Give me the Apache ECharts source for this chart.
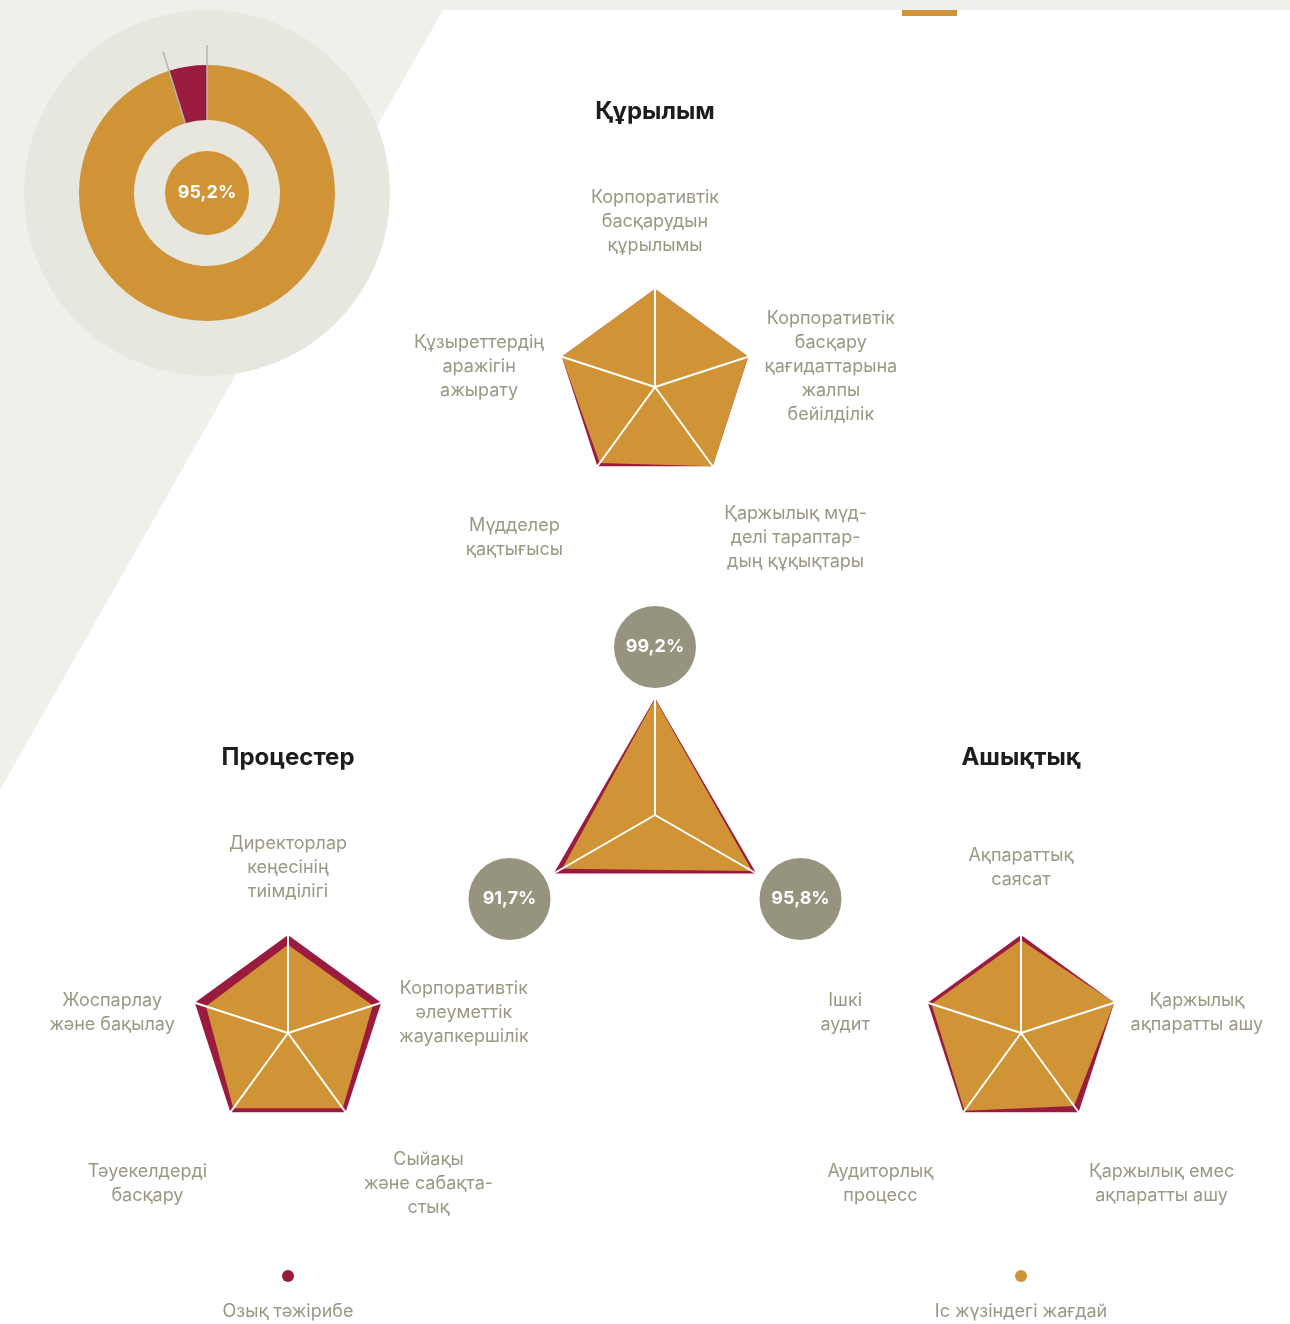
<!DOCTYPE html>
<html>
<head>
<meta charset="utf-8">
<script src="https://cdn.jsdelivr.net/npm/echarts@6/dist/echarts.min.js"></script>
<style>
  html, body { margin: 0; padding: 0; background: #fff; }
  #main { width: 1290px; height: 1324px; }
</style>
</head>
<body>
<div id="main"></div>
<script>
var legendNames = ['Озық тәжірибе', 'Іс жүзіндегі жағдай'];

// donut: actual level vs. gap
var donutValues = [95.2, 4.8];

// triangle: three groups
var groupNames = ['Құрылым', 'Процестер', 'Ашықтық'];
var groupValues = [99.2, 91.7, 95.8];
var groupBest = [100, 100, 100];

// indicators go from the top, counterclockwise
var structureNames = [
    'Корпоративтік\nбасқарудын\nқұрылымы',
    'Құзыреттердің\nаражігін\nажырату',
    'Мүдделер\nқақтығысы',
    'Қаржылық мүд-\nделі тараптар-\nдың құқықтары',
    'Корпоративтік\nбасқару\nқағидаттарына\nжалпы\nбейілділік'
];
var structureValues = [100, 100, 96, 100, 100];

var processNames = [
    'Директорлар\nкеңесінің\nтиімділігі',
    'Жоспарлау\nжәне бақылау',
    'Тәуекелдерді\nбасқару',
    'Сыйақы\nжәне сабақта-\nстық',
    'Корпоративтік\nәлеуметтік\nжауапкершілік'
];
var processValues = [90, 88, 95, 95, 91];

var disclosureNames = [
    'Ақпараттық\nсаясат',
    'Ішкі\nаудит',
    'Аудиторлық\nпроцесс',
    'Қаржылық емес\nақпаратты ашу',
    'Қаржылық\nақпаратты ашу'
];
var disclosureValues = [95, 96, 98, 92, 100];

var pentagonBest = [100, 100, 100, 100, 100];

var ORANGE = '#d09336', MAROON = '#9b1b3f', GREY = '#96947f', TEXT = '#9a9884';
var FONT = 'Inter, "Noto Sans", sans-serif';

// label nudges (dx, dy) for the five pentagon names
var nameShift = [[0, 1], [-18, 31], [-43, 16], [43, 16], [18, 31]];

function pct(v) {
    return v.toFixed(1).replace('.', ',') + '%';
}

function nameRich() {
    var rich = {};
    nameShift.forEach(function (s, i) {
        rich['p' + i] = {
            fontFamily: FONT,
            fontSize: 18,
            lineHeight: 24,
            color: TEXT,
            align: 'center',
            padding: [Math.max(2 * s[1], 0), Math.max(-2 * s[0], 0), Math.max(-2 * s[1], 0), Math.max(2 * s[0], 0)]
        };
    });
    return rich;
}

function pentagon(center, names) {
    return {
        center: center,
        radius: 98,
        startAngle: 90,
        shape: 'polygon',
        splitNumber: 1,
        z: 3,
        nameGap: 68,
        indicator: names.map(function (n) { return { name: n, min: 0, max: 100 }; }),
        axisName: {
            align: 'center',
            verticalAlign: 'middle',
            formatter: function (name) {
                var i = names.indexOf(name);
                return name.split('\n').map(function (l) { return '{p' + i + '|' + l + '}'; }).join('\n');
            },
            rich: nameRich()
        },
        axisLine: { lineStyle: { color: '#fff', width: 2 } },
        axisTick: { show: false },
        axisLabel: { show: false },
        splitLine: { show: false },
        splitArea: { show: false }
    };
}

function radarSeries(idx, best, values) {
    return {
        type: 'radar',
        radarIndex: idx,
        symbol: 'none',
        silent: true,
        lineStyle: { width: 0 },
        data: [
            { name: legendNames[0], value: best, itemStyle: { color: MAROON }, lineStyle: { width: 0 }, areaStyle: { color: MAROON, opacity: 1 } },
            { name: legendNames[1], value: values, itemStyle: { color: ORANGE }, lineStyle: { width: 0 }, areaStyle: { color: ORANGE, opacity: 1 } }
        ]
    };
}

function legendItem(i, left, color) {
    return {
        data: [legendNames[i]],
        left: left,
        top: 1270,
        padding: 0,
        icon: 'none',
        itemWidth: 0,
        itemHeight: 0,
        selectedMode: false,
        formatter: function (name) { return '{d| }\n{t|' + name + '}'; },
        textStyle: {
            rich: {
                d: { width: 12, height: 12, lineHeight: 48, borderRadius: 6, backgroundColor: color, align: 'center' },
                t: { width: 200, align: 'center', fontFamily: FONT, fontSize: 18, lineHeight: 24, color: TEXT }
            }
        }
    };
}

function titleItem(text, x, y) {
    return {
        text: text, left: x, top: y, padding: 0,
        textAlign: 'center', textVerticalAlign: 'middle',
        textStyle: { fontFamily: FONT, fontSize: 24, fontWeight: 'bold', color: '#1d1d1b' }
    };
}

// thin grey ticks at the edges of the gap slice
var cx = 207, cy = 193;
var gapAngle = (90 + donutValues[1] / (donutValues[0] + donutValues[1]) * 360) * Math.PI / 180;
function tick(a) {
    return {
        type: 'line', z: 5, silent: true,
        shape: { x1: cx + 73 * Math.cos(a), y1: cy - 73 * Math.sin(a), x2: cx + 148 * Math.cos(a), y2: cy - 148 * Math.sin(a) },
        style: { stroke: '#b7b6a8', lineWidth: 1.5 }
    };
}

var myChart = echarts.init(document.getElementById('main'));
var option = {
    backgroundColor: '#f0f0eb',
    animation: false,
    title: [
        titleItem('Құрылым', 655, 112),
        titleItem('Процестер', 288, 758),
        titleItem('Ашықтық', 1021, 758)
    ],
    legend: [
        legendItem(0, 183, MAROON),
        legendItem(1, 916, ORANGE)
    ],
    graphic: [
        { type: 'polygon', silent: true, shape: { points: [[443, 10], [1290, 10], [1290, 1324], [0, 1324], [0, 790]] }, style: { fill: '#fff' } },
        { type: 'rect', silent: true, shape: { x: 902, y: 10, width: 55, height: 6 }, style: { fill: ORANGE } },
        tick(Math.PI / 2),
        tick(gapAngle)
    ],
    radar: [
        pentagon([655, 387], structureNames),
        {
            center: [655, 815],
            radius: 117,
            startAngle: 90,
            shape: 'polygon',
            splitNumber: 1,
            z: 3,
            nameGap: 51,
            indicator: groupNames.map(function (n) { return { name: n, min: 0, max: 100 }; }),
            axisName: {
                align: 'center',
                verticalAlign: 'middle',
                formatter: function (name) {
                    return '{c|' + pct(groupValues[groupNames.indexOf(name)]) + '}';
                },
                rich: {
                    c: {
                        width: 82, height: 82, lineHeight: 82, borderRadius: 41,
                        backgroundColor: GREY, color: '#fff', align: 'center',
                        fontFamily: FONT, fontSize: 18, fontWeight: 'bold'
                    }
                }
            },
            axisLine: { lineStyle: { color: '#fff', width: 2 } },
            axisTick: { show: false },
            axisLabel: { show: false },
            splitLine: { show: false },
            splitArea: { show: false }
        },
        pentagon([288, 1033], processNames),
        pentagon([1021, 1033], disclosureNames)
    ],
    series: [
        {
            type: 'pie', center: [cx, cy], radius: [0, 183], silent: true, z: 1,
            label: { show: false }, labelLine: { show: false },
            data: [{ value: 1, name: 'bg', itemStyle: { color: '#e7e6df' } }]
        },
        {
            type: 'pie', center: [cx, cy], radius: [73, 128], startAngle: 90, silent: true,
            label: { show: false }, labelLine: { show: false },
            data: [
                { value: donutValues[0], name: legendNames[1], itemStyle: { color: ORANGE } },
                { value: donutValues[1], name: 'gap', itemStyle: { color: MAROON } }
            ]
        },
        {
            type: 'pie', center: [cx, cy], radius: [0, 42], silent: true,
            label: {
                show: true, position: 'center', formatter: pct(donutValues[0]),
                color: '#fff', fontFamily: FONT, fontSize: 18, fontWeight: 'bold'
            },
            labelLine: { show: false },
            data: [{ value: donutValues[0], name: 'inner', itemStyle: { color: ORANGE } }]
        },
        radarSeries(0, pentagonBest, structureValues),
        radarSeries(1, groupBest, groupValues),
        radarSeries(2, pentagonBest, processValues),
        radarSeries(3, pentagonBest, disclosureValues)
    ]
};
myChart.setOption(option);
</script>
</body>
</html>
